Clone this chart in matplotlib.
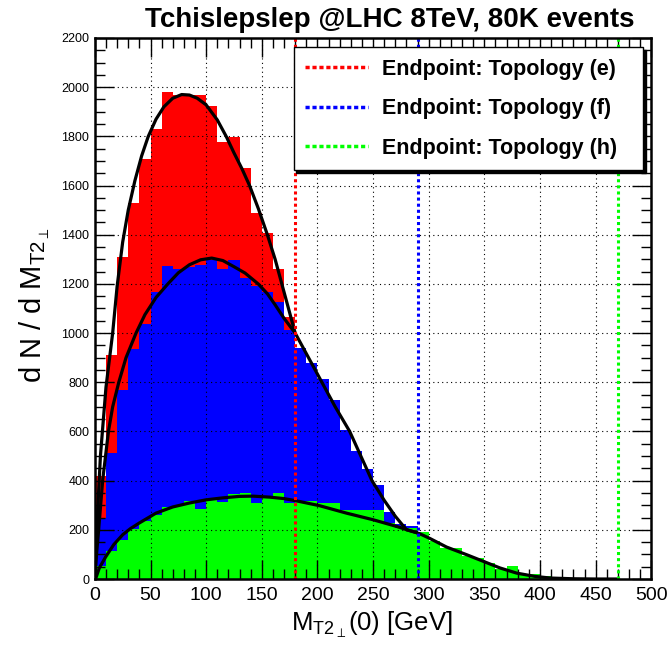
import numpy as np
import matplotlib
matplotlib.use("Agg")
from matplotlib import pyplot as plt
from matplotlib.lines import Line2D

plt.rcParams['font.family'] = ['Liberation Sans', 'DejaVu Sans']
plt.rcParams['mathtext.fontset'] = 'custom'
plt.rcParams['mathtext.rm'] = 'Liberation Sans'
plt.rcParams['mathtext.it'] = 'Liberation Sans:italic'
plt.rcParams['mathtext.bf'] = 'Liberation Sans:bold'
plt.rcParams['mathtext.fallback'] = 'stixsans'

# 10 GeV bins from 0 to 500
bin_edges = np.arange(0, 510, 10)

# topology (e), endpoint 180 GeV
red_counts = [420, 910, 1309, 1531, 1707, 1829, 1981, 1969, 1969, 1969,
              1924, 1779, 1797, 1670, 1490, 1406, 1261, 1067] + [0] * 32
# topology (f), endpoint 290 GeV
blue_counts = [249, 514, 767, 935, 1038, 1169, 1274, 1260, 1268, 1278,
               1298, 1260, 1298, 1222, 1190, 1169, 1128, 1014, 939, 878,
               813, 729, 607, 519, 447, 383, 272, 225, 214] + [0] * 21
# topology (h), endpoint 470 GeV
green_counts = [54, 112, 160, 203, 237, 261, 293, 298, 318, 285,
                329, 313, 345, 348, 310, 329, 350, 309, 316, 316,
                311, 311, 282, 279, 279, 282, 228, 207, 207, 190,
                153, 127, 125, 95, 85, 65, 41, 54, 17, 21,
                11, 6, 5, 4, 3, 3, 2, 0, 0, 0]

# fitted curves
red_fit_x = [0, 2, 5, 10, 16, 20, 25, 30, 36, 42, 48, 55, 62, 70, 78, 85, 92,
             100, 110, 118, 125, 132, 139, 147, 155, 162, 168, 174, 180]
red_fit_y = [0, 230, 500, 780, 1000, 1190, 1370, 1500, 1620, 1720, 1800, 1870,
             1920, 1955, 1970, 1968, 1955, 1928, 1867, 1800, 1733, 1670, 1600,
             1505, 1400, 1300, 1200, 1100, 1000]
blue_fit_x = [0, 1.5, 3.4, 7, 12.2, 16, 21.5, 28, 37, 45, 55, 65.6, 75, 85, 95,
              105, 115, 125, 135, 147, 155, 162, 170, 180, 192, 204, 216, 229,
              240, 249, 260, 270, 280, 290]
blue_fit_y = [0, 100, 200, 400, 600, 700, 800, 900, 1000, 1075, 1145, 1200,
              1245, 1278, 1298, 1305, 1295, 1270, 1244, 1199, 1160, 1115, 1060,
              1000, 900, 800, 700, 600, 490, 400, 320, 255, 200, 188]
green_fit_x = [0, 1, 4, 10, 17, 25, 32, 40, 55, 70, 85, 100, 115, 130, 142, 157,
               170, 181, 202, 226, 250, 271, 292, 301, 316, 334, 349, 364, 379,
               395, 409, 430, 450, 470]
green_fit_y = [0, 5, 45, 92, 140, 180, 205, 228, 268, 293, 309, 322, 330, 336,
               337, 333, 327, 318, 298, 268, 241, 214, 184, 165, 130, 99, 72, 45,
               24, 11, 4, 1, 0, 0]

endpoints = [180, 290, 470]
endpoint_colors = ['#ff0000', '#0000ff', '#00ff00']
endpoint_labels = ['Endpoint: Topology (e)', 'Endpoint: Topology (f)',
                   'Endpoint: Topology (h)']

fig = plt.figure(figsize=(6.68, 6.46), dpi=100)
ax = fig.add_axes([0.142, 0.1037, 0.833, 0.8375])

ax.stairs(red_counts, bin_edges, fill=True, color='#ff0000', zorder=1)
ax.stairs(blue_counts, bin_edges, fill=True, color='#0000ff', zorder=1.1)
ax.stairs(green_counts, bin_edges, fill=True, color='#00ff00', zorder=1.2)

for fx, fy in [(red_fit_x, red_fit_y), (blue_fit_x, blue_fit_y),
               (green_fit_x, green_fit_y)]:
    ax.plot(fx, fy, color='black', lw=2.3, zorder=4, solid_capstyle='butt')

for xe, c in zip(endpoints, endpoint_colors):
    ax.axvline(xe, color=c, lw=2.2, ls=(0, (1.0, 1.0)), zorder=5)

ax.set_xlim(0, 500)
ax.set_ylim(0, 2200)
ax.set_xticks(np.arange(0, 501, 50))
ax.set_xticks(np.arange(0, 501, 10), minor=True)
ax.set_yticks(np.arange(0, 2201, 200))
ax.set_yticks(np.arange(0, 2201, 50), minor=True)
ax.grid(True, which='major', color='black', ls=(0, (1, 3)), lw=0.8)
ax.set_axisbelow(False)
ax.tick_params(which='both', direction='in', top=True, right=True, width=1.0)
ax.tick_params(which='major', length=14)
ax.tick_params(which='minor', length=7.5)
ax.tick_params(axis='x', labelsize=14, pad=6)
ax.tick_params(axis='y', labelsize=9, pad=4)
for sp in ax.spines.values():
    sp.set_linewidth(1.8)
    sp.set_zorder(6)

handles = [Line2D([], [], color=c, lw=2.5, ls=(0, (1.2, 0.8)))
           for c in endpoint_colors]
leg = ax.legend(handles, endpoint_labels, loc='upper left',
                bbox_to_anchor=(0.357, 0.983, 0.628, 0.0), mode='expand',
                borderaxespad=0, fancybox=False, framealpha=1,
                edgecolor='black', handlelength=2.9, handletextpad=0.65,
                labelspacing=0.85, borderpad=0.55,
                prop={'weight': 'bold', 'size': 15.5},
                shadow={'color': 'black', 'alpha': 1})
leg.get_frame().set_linewidth(1.0)
leg.set_zorder(10)

fig.text(0.584, 0.969, 'Tchislepslep @LHC 8TeV, 80K events',
         ha='center', va='center', fontsize=20, fontweight='bold')
fig.text(0.678, 0.0325, r'M$_{\mathregular{T2}_{\perp}}$(0) [GeV]',
         ha='right', va='center', fontsize=18.5)
fig.text(0.053, 0.528, r'd N / d M$_{\mathregular{T2}_{\perp}}$',
         ha='center', va='center', rotation=90, fontsize=21)

fig.savefig('out.png', dpi=100)
